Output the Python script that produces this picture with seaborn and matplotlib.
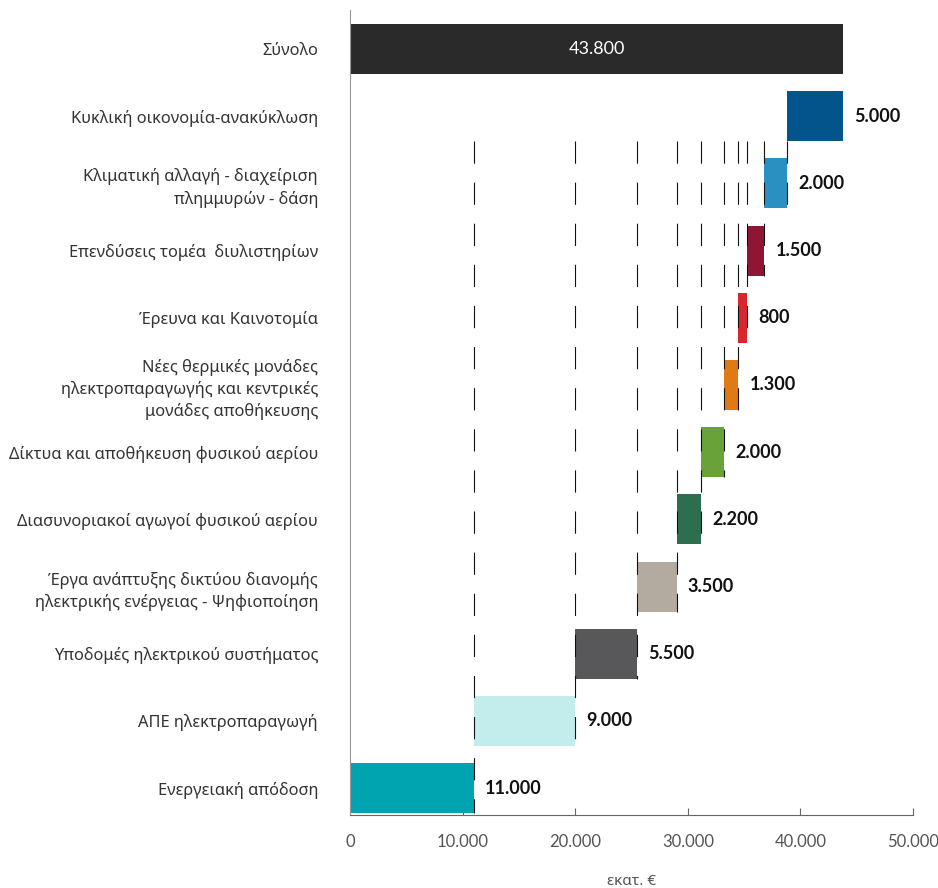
import numpy as np
import pandas as pd
import matplotlib
matplotlib.use("Agg")
import matplotlib.pyplot as plt
import seaborn as sns

# Data (top to bottom), values in million EUR
categories = [
    "Σύνολο",
    "Κυκλική οικονομία-ανακύκλωση",
    "Κλιματική αλλαγή - διαχείριση\nπλημμυρών - δάση",
    "Επενδύσεις τομέα  διυλιστηρίων",
    "Έρευνα και Καινοτομία",
    "Νέες θερμικές μονάδες\nηλεκτροπαραγωγής και κεντρικές\nμονάδες αποθήκευσης",
    "Δίκτυα και αποθήκευση φυσικού αερίου",
    "Διασυνοριακοί αγωγοί φυσικού αερίου",
    "Έργα ανάπτυξης δικτύου διανομής\nηλεκτρικής ενέργειας - Ψηφιοποίηση",
    "Υποδομές ηλεκτρικού συστήματος",
    "ΑΠΕ ηλεκτροπαραγωγή",
    "Ενεργειακή απόδοση",
]
values = [43800, 5000, 2000, 1500, 800, 1300, 2000, 2200, 3500, 5500, 9000, 11000]
colors = [
    "#2a2a2a", "#04548c", "#2a8fc1", "#8f1535", "#d9262e", "#df7a14",
    "#6aa23a", "#2d6e4e", "#b3aba0", "#58585a", "#c3ecec", "#00a3b0",
]
xticks = [0, 10000, 20000, 30000, 40000, 50000]


def fmt(v):
    return f"{v:,}".replace(",", ".")


# waterfall: each component sits on top of the ones listed below it
parts = np.array(values[1:])
ends = np.cumsum(parts[::-1])[::-1]
bases = np.concatenate([[0], ends - parts])
ends = np.concatenate([[values[0]], ends])

df = pd.DataFrame({"category": categories, "value": values, "base": bases})

sns.set_theme(style="white")
plt.rcParams["font.family"] = ["Noto Sans", "DejaVu Sans"]

fig = plt.figure(figsize=(9.38, 8.88), dpi=100)
ax = fig.add_axes([350 / 938, 73 / 888, 563 / 938, 805 / 888])

bar_h = 0.745
sns.barplot(data=df, x="value", y="category", hue="category", palette=colors,
            orient="h", width=bar_h, saturation=1, legend=False, ax=ax)
for patch, b in zip(ax.patches, df["base"]):
    patch.set_x(b)
    patch.set_linewidth(0)

# dashed connectors
top = 1 + bar_h / 2
for i in range(2, len(values)):
    ax.vlines(ends[i], top, i + bar_h / 2, colors="#111111", lw=0.8,
              linestyles=(0, (20, 17)), zorder=3)

# value labels
for i in range(1, len(values)):
    ax.annotate(fmt(values[i]), (ends[i], i), xytext=(8, 0), textcoords="offset points",
                ha="left", va="center", fontsize=13, fontweight="bold", color="#111111",
                family=["Lato", "DejaVu Sans"])
ax.text(values[0] / 2, 0, fmt(values[0]), ha="center", va="center",
        color="white", fontsize=13, family=["Lato", "DejaVu Sans"])

ax.set_xlim(0, 50000)
ax.set_ylim(len(values) - 1 + 0.40, -0.58)
ax.set_xticks(xticks)
ax.set_xticklabels([fmt(t) for t in xticks], family=["Lato", "DejaVu Sans"])
ax.tick_params(axis="x", bottom=True, direction="in", length=5, width=0.8, color="#666666",
               pad=14, labelsize=12, labelcolor="#555555")
ax.tick_params(axis="y", left=False, length=0, pad=23, labelsize=11.8, labelcolor="#333333")
for lbl in ax.get_yticklabels():
    lbl.set_linespacing(1.4)
ax.set_ylabel("")
ax.set_xlabel("εκατ. €", fontsize=11, color="#555555", labelpad=17)

sns.despine(ax=ax, top=True, right=True)
ax.spines["left"].set_color("#999999")
ax.spines["left"].set_linewidth(0.8)
ax.spines["bottom"].set_color("#666666")
ax.spines["bottom"].set_linewidth(0.8)

fig.savefig("out.png", dpi=100)
